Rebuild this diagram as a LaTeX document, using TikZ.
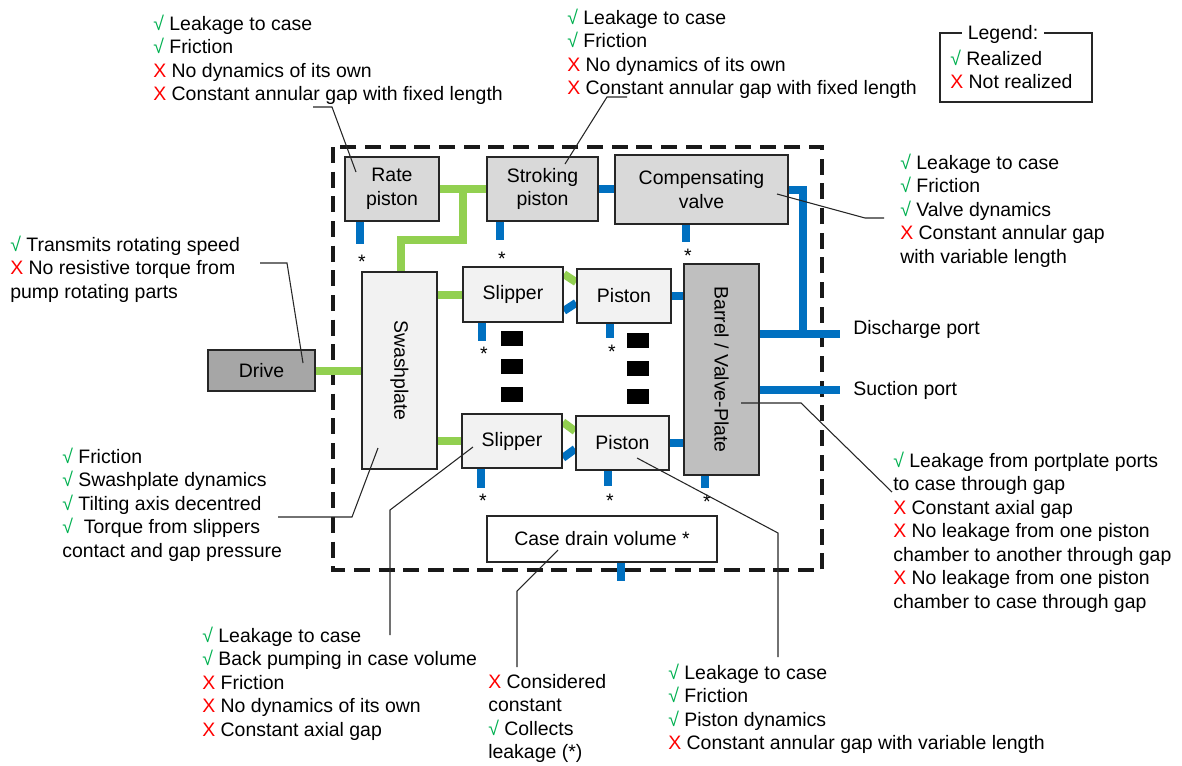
\documentclass[tikz,border=0pt]{standalone}
\usepackage{fontspec}
\setmainfont{Liberation Sans}
\usetikzlibrary{positioning,calc,backgrounds}
\definecolor{mechgreen}{HTML}{92D050}
\definecolor{oilblue}{HTML}{0070C0}
\definecolor{okgreen}{HTML}{00B050}
\definecolor{nored}{HTML}{FF0000}
\definecolor{paleA}{HTML}{D9D9D9}
\definecolor{paleB}{HTML}{F2F2F2}
\definecolor{midgray}{HTML}{BFBFBF}
\definecolor{darkgray}{HTML}{A6A6A6}
\newcommand{\good}{\strut\textcolor{okgreen}{√}\ }
\newcommand{\bad}{\strut\textcolor{nored}{X}\ }
\newcommand{\notefont}{\fontsize{14.6pt}{17.6pt}\selectfont}
\tikzset{
  every node/.style={font=\notefont},
  sz/.style 2 args={minimum width=#1*0.75pt, minimum height=#2*0.75pt},
  part/.style={draw=black!85, line width=1.3pt, align=center, inner sep=0pt},
  note/.style={anchor=north west, align=left, inner sep=0pt},
  ports/.style={anchor=base west, inner sep=0pt},
  leakmark/.style={inner sep=0pt},
  mech/.style={draw=mechgreen, line width=6pt},
  oil/.style={draw=oilblue, line width=6pt},
  callout/.style={draw=black!85, line width=0.8pt},
  casing/.style={draw=black!90, line width=2.6pt, dash pattern=on 12pt off 6.5pt}
}

\begin{document}
\begin{tikzpicture}[x=0.75pt,y=-0.75pt]
\useasboundingbox (0,0) rectangle (1182,765);

\node[part, fill=paleA, sz={94}{64}] (rate) at (392,189) {Rate\\piston};
\node[part, fill=paleA, sz={111}{64}] (strok) at (542.5,189) {Stroking\\piston};
\node[part, fill=paleA, sz={173}{69}] (comp) at (701.5,189.5) {Compensating\\valve};
\node[part, fill=paleB, sz={75}{197}, label={[rotate=-90]center:Swashplate}] (swash) at (399.5,370.5) {};
\node[part, fill=paleB, sz={100}{55}] (slipA) at (513,294.5) {Slipper};
\node[part, fill=paleB, sz={94}{54}] (pistA) at (624,296) {Piston};
\node[part, fill=paleB, sz={100}{54}] (slipB) at (512,441) {Slipper};
\node[part, fill=paleB, sz={93}{54}] (pistB) at (622.5,443) {Piston};
\node[part, fill=midgray, sz={75}{211}, label={[rotate=-90]center:Barrel / Valve-Plate}] (barrel) at (721.5,369.5) {};
\node[part, fill=white, sz={230}{46}] (drain) at (602,539) {Case drain volume *};
\node[part, fill=darkgray, sz={107}{41}] (drive) at (261.5,370.5) {Drive};

\node[ports] (disch) at (853,334) {Discharge port};
\node[ports] (suct) at (853,395) {Suction port};
\coordinate (disch-end) at (840,334);
\coordinate (suct-end) at (840,390);
\coordinate (dtee) at (803,334);
\coordinate (tee) at ($(rate.east)!0.5!(strok.west)$);
\coordinate (bend) at (401,240);
\coordinate (drain-end) at (621,581);

\begin{scope}[on background layer]
\draw[casing] (333,147) rectangle (822,570);
\draw[mech] (rate.east) -- (strok.west);
\draw[mech] (tee) |- (bend) -- (bend |- swash.north);
\draw[mech] (drive.east) -- (swash.west);
\draw[mech] (swash.east |- slipA.west) -- (slipA.west);
\draw[mech] (swash.east |- slipB.west) -- (slipB.west);
\draw[mech] ([yshift=-6pt]slipA.north east) -- ([yshift=-10.5pt]pistA.north west);
\draw[oil] ([yshift=9pt]slipA.south east) -- ([yshift=15.75pt]pistA.south west);
\draw[mech] ([yshift=-6.75pt]slipB.north east) -- ([yshift=-12pt]pistB.north west);
\draw[oil] ([yshift=8.25pt]slipB.south east) -- ([yshift=16.5pt]pistB.south west);
\draw[oil] (strok.east) -- (strok.east -| comp.west);
\draw[oil] (pistA.east) -- (pistA.east -| barrel.west);
\draw[oil] (pistB.east) -- (pistB.east -| barrel.west);
\draw[oil] (comp.east) -| (dtee);
\draw[oil] (barrel.east |- disch-end) -- (disch-end);
\draw[oil] (barrel.east |- suct-end) -- (suct-end);
\draw[oil] (drain.south -| drain-end) -- (drain-end);
\foreach \blk/\sx/\sy/\ty in {rate/360/244/262, strok/500/240/259, comp/686/242/256,
    slipA/482/341/354, pistA/610/338/352, slipB/481/488/501, pistB/608/486/501, barrel/705/488/502}{
  \coordinate (\blk-end) at (\sx,\sy);
  \draw[oil] (\blk.south -| \blk-end) -- (\blk-end);
  \node[leakmark] (\blk-leak) at (\sx+2,\ty) {*};
}
\end{scope}

\foreach \cx/\cy in {501/331, 627/333}
  \foreach \k in {0,1,2}
    \fill (\cx,\cy+28*\k) rectangle ++(22,15);

\node[note] (rate-note) at (153,13.5) {\good Leakage to case\\ \good Friction\\ \bad No dynamics of its own\\ \bad Constant annular gap with fixed length};
\node[note] (strok-note) at (567,7.5) {\good Leakage to case\\ \good Friction\\ \bad No dynamics of its own\\ \bad Constant annular gap with fixed length};
\node[note] (comp-note) at (900,152.5) {\good Leakage to case\\ \good Friction\\ \good Valve dynamics\\ \bad Constant annular gap\\ with variable length};
\node[note] (drive-note) at (10,234.5) {\good Transmits rotating speed\\ \bad No resistive torque from\\ pump rotating parts};
\node[note] (swash-note) at (62,446.5) {\good Friction\\ \good Swashplate dynamics\\ \good Tilting axis decentred\\ \good\ Torque from slippers\\ contact and gap pressure};
\node[note] (barrel-note) at (893,450.5) {\good Leakage from portplate ports\\ to case through gap\\ \bad Constant axial gap\\ \bad No leakage from one piston\\ chamber to another through gap\\ \bad No leakage from one piston\\ chamber to case through gap};
\node[note] (slip-note) at (202,625.5) {\good Leakage to case\\ \good Back pumping in case volume\\ \bad Friction\\ \bad No dynamics of its own\\ \bad Constant axial gap};
\node[note] (drain-note) at (488,671.5) {\bad Considered\\ constant\\ \good Collects\\ leakage (*)};
\node[note] (pist-note) at (668,662.5) {\good Leakage to case\\ \good Friction\\ \good Piston dynamics\\ \bad Constant annular gap with variable length};

\draw[callout] (940,33) rectangle (1092,102);
\node[fill=white, inner xsep=4.5pt, inner ysep=1pt] (legend) at (1003,34) {Legend:};
\node[note] (legend-items) at (950,48.5) {\good Realized\\ \bad Not realized};

\coordinate (rate-a) at (313,107);
\coordinate (rate-b) at (332,107);
\coordinate (rate-c) at (356,172);
\coordinate (strok-a) at (627,97);
\coordinate (strok-b) at (607,97);
\coordinate (strok-c) at (565,164);
\coordinate (comp-a) at (777,194);
\coordinate (comp-b) at (865,218);
\coordinate (comp-c) at (884,218);
\coordinate (drive-a) at (260,263);
\coordinate (drive-b) at (287,263);
\coordinate (drive-c) at (303,363);
\coordinate (swash-a) at (278,517);
\coordinate (swash-b) at (352,517);
\coordinate (swash-c) at (378,448);
\coordinate (slip-a) at (473,447);
\coordinate (slip-b) at (390,510);
\coordinate (slip-c) at (390,635);
\coordinate (drain-a) at (558,550);
\coordinate (drain-b) at (517,591);
\coordinate (drain-c) at (517,667);
\coordinate (pist-a) at (637,458);
\coordinate (pist-b) at (778,533);
\coordinate (pist-c) at (778,657);
\coordinate (barrel-a) at (741,403);
\coordinate (barrel-b) at (801,403);
\coordinate (barrel-c) at (892,492);
\draw[callout] (rate-a) -- (rate-b) -- (rate-c);
\draw[callout] (strok-a) -- (strok-b) -- (strok-c);
\draw[callout] (comp-a) -- (comp-b) -- (comp-c);
\draw[callout] (drive-a) -- (drive-b) -- (drive-c);
\draw[callout] (swash-a) -- (swash-b) -- (swash-c);
\draw[callout] (slip-a) -- (slip-b) -- (slip-c);
\draw[callout] (drain-a) -- (drain-b) -- (drain-c);
\draw[callout] (pist-a) -- (pist-b) -- (pist-c);
\draw[callout] (barrel-a) -- (barrel-b) -- (barrel-c);
\end{tikzpicture}
\end{document}
